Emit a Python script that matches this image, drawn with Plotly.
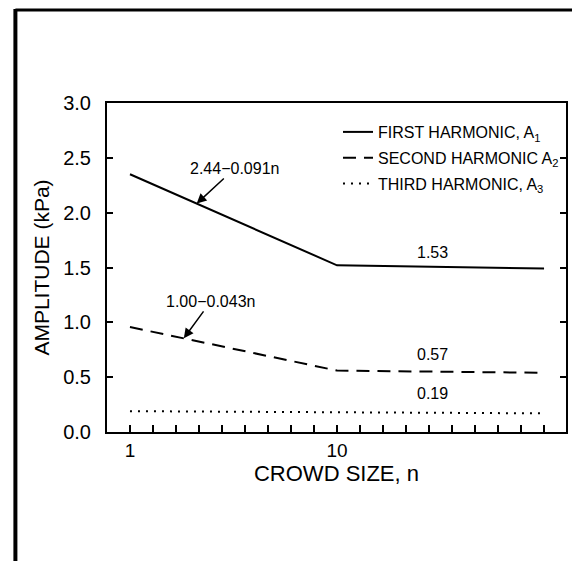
import math
import plotly.graph_objects as go

# ---- data ----
crowd_n = [1, 10, 100]
first_h = [2.35, 1.52, 1.49]
second_h = [0.957, 0.56, 0.54]
third_h = [0.19, 0.18, 0.17]

series_names = ["FIRST HARMONIC, A<sub>1</sub>",
                "SECOND HARMONIC A<sub>2</sub>",
                "THIRD HARMONIC, A<sub>3</sub>"]
x_tick_vals = [1, 10]
x_tick_text = ["1", "10"]
minor_tick_vals = [10 ** (k / 9) for k in range(19)]

# annotation labels: (text, n, value, dx, dy)
formula_labels = [("2.44\u22120.091n", 2.1, 2.083, 38, -35),
                  ("1.00\u22120.043n", 1.82, 0.854, 27, -37)]
value_labels = [("1.53", 29, 1.64), ("0.57", 29, 0.71), ("0.19", 29, 0.35)]

# page body margin of the browser shifts the figure by 8 px
OFF = 8
W, H = 580 - OFF, 561 - OFF
# plot box in reference pixel coords: x 107..568, y 103..432
ML = 107 - OFF
MT = 103 - OFF
MR = W - (568 - OFF)
MB = H - (432 - OFF)
FONT = "Liberation Sans, Arial, sans-serif"

fig = go.Figure()
styles = [dict(dash="solid", width=2),
          dict(dash="13px,8px", width=2),
          dict(dash="2px,6px", width=2)]
for i, (vals, name, st) in enumerate(zip([first_h, second_h, third_h], series_names, styles)):
    fig.add_trace(go.Scatter(x=crowd_n, y=vals, mode="lines", name=name,
                             line=dict(color="black", **st),
                             legendgroup=f"g{i}"))

for txt, nval, yval, ax, ay in formula_labels:
    fig.add_annotation(x=math.log10(nval), y=yval, xref="x", yref="y",
                       text=txt, showarrow=True, ax=ax, ay=ay,
                       arrowhead=2, arrowsize=1.3, arrowwidth=1.5,
                       arrowcolor="black", standoff=0,
                       font=dict(family=FONT, size=16, color="black"))
for txt, nval, yval in value_labels:
    fig.add_annotation(x=math.log10(nval), y=yval, xref="x", yref="y",
                       text=txt, showarrow=False,
                       font=dict(family=FONT, size=16, color="black"))

pw = W - ML - MR
ph = H - MT - MB
def px(xp):
    return (xp - OFF - ML) / pw
def py(yp):
    return (H - MB - (yp - OFF)) / ph

# outer page frame (scanned figure border)
fig.add_shape(type="line", xref="paper", yref="paper",
              x0=px(15), x1=px(15), y0=py(9), y1=py(561),
              line=dict(color="black", width=4))
fig.add_shape(type="line", xref="paper", yref="paper",
              x0=px(15), x1=px(580), y0=py(10), y1=py(10),
              line=dict(color="black", width=3))
fig.add_shape(type="line", xref="paper", yref="paper",
              x0=px(577), x1=px(577), y0=py(12), y1=py(561),
              line=dict(color="#cfcfcf", width=1))

fig.update_layout(
    width=W, height=H,
    margin=dict(l=ML, r=MR, t=MT, b=MB),
    paper_bgcolor="white", plot_bgcolor="white",
    font=dict(family=FONT, color="black", size=19),
    showlegend=True,
    legend=dict(x=px(339), y=py(115), xanchor="left", yanchor="top",
                bgcolor="rgba(0,0,0,0)", font=dict(size=16, family=FONT),
                traceorder="grouped", tracegroupgap=2, itemwidth=30),
    xaxis=dict(type="log", range=[-0.111, 2.106],
               tickvals=x_tick_vals, ticktext=x_tick_text,
               ticks="inside", ticklen=7, tickwidth=1.5, tickcolor="black",
               minor=dict(tickvals=minor_tick_vals, ticks="inside", ticklen=7,
                          tickwidth=1.5, tickcolor="black", showgrid=False),
               showline=True, linecolor="black", linewidth=2, mirror=True,
               showgrid=False, zeroline=False,
               tickfont=dict(size=19),
               title=dict(text="CROWD SIZE, n", font=dict(size=22), standoff=1)),
    yaxis=dict(range=[0, 3], dtick=0.5, tick0=0, tickformat=".1f",
               ticks="inside", ticklen=6, tickwidth=1.5, tickcolor="black",
               showline=True, linecolor="black", linewidth=2, mirror="ticks",
               showgrid=False, zeroline=False, ticklabelstandoff=10,
               tickfont=dict(size=20),
               title=dict(text="AMPLITUDE (kPa)", font=dict(size=21), standoff=8)),
)

fig.write_html("out.html")
